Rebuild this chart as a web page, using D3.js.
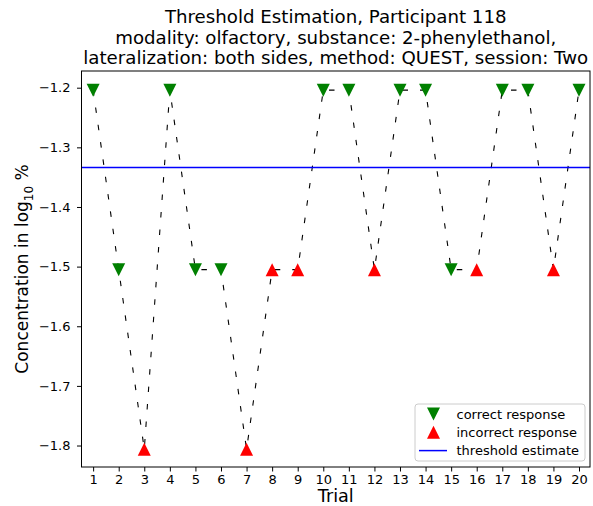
<!DOCTYPE html>
<html>
<head>
<meta charset="utf-8">
<script src="https://cdn.jsdelivr.net/npm/d3@7"></script>
<style>
  html, body { margin: 0; padding: 0; background: #fff; }
  svg { display: block; font-family: "DejaVu Sans", sans-serif; }
</style>
</head>
<body>
<svg id="chart" width="593" height="506"></svg>
<script>
// Trial sequence of one QUEST run (log10 of concentration in %)
const trials = [1, 2, 3, 4, 5, 6, 7, 8, 9, 10, 11, 12, 13, 14, 15, 16, 17, 18, 19, 20];
const concentrations = [-1.2041, -1.5051, -1.8062, -1.2041, -1.5051, -1.5051, -1.8062, -1.5051, -1.5051, -1.2041,
                        -1.2041, -1.5051, -1.2041, -1.2041, -1.5051, -1.5051, -1.2041, -1.2041, -1.5051, -1.2041];
const responses = [1, 1, 0, 1, 1, 1, 0, 0, 0, 1, 1, 0, 1, 1, 1, 0, 1, 1, 0, 1]; // 1 = correct, 0 = incorrect
const thresholdEstimate = -1.334;

const yTicks = [-1.8, -1.7, -1.6, -1.5, -1.4, -1.3, -1.2];
const xTicks = trials;

const titleLines = [
  "Threshold Estimation, Participant 118",
  "modality: olfactory, substance: 2-phenylethanol,",
  "lateralization: both sides, method: QUEST, session: Two"
];
const legendLabels = ["correct response", "incorrect response", "threshold estimate"];

// ---- layout ----
const plot = { left: 81.5, right: 590, top: 71, bottom: 467 };
const xLim = [0.545, 20.43];
const yLim = [-1.172, -1.836];

const svg = d3.select("#chart");
svg.append("rect").attr("width", 593).attr("height", 506).attr("fill", "#fff");

const x = d3.scaleLinear().domain(xLim).range([plot.left, plot.right]);
const y = d3.scaleLinear().domain(yLim).range([plot.top, plot.bottom]);

const minus = s => s.replace("-", "\u2212");

// triangle marker whose bounding box is centred on the point
function triangle(size, up) {
  const h = size / 2;
  return up
    ? `M0,${-h}L${-h},${h}L${h},${h}Z`
    : `M0,${h}L${-h},${-h}L${h},${-h}Z`;
}
const markerSize = 13;

// ---- axes ----
const xAxis = d3.axisBottom(x).tickValues(xTicks).tickSize(4.5).tickPadding(3.5).tickFormat(d3.format("d"));
const yAxis = d3.axisLeft(y).tickValues(yTicks).tickSize(4.5).tickPadding(6.5).tickFormat(d => minus(d3.format(".1f")(d)));

const gx = svg.append("g").attr("transform", `translate(0,${plot.bottom})`).call(xAxis);
const gy = svg.append("g").attr("transform", `translate(${plot.left},0)`).call(yAxis);
[gx, gy].forEach(g => {
  g.select(".domain").remove();
  g.selectAll(".tick line").attr("stroke", "#000").attr("stroke-width", 1);
  g.selectAll(".tick text").attr("fill", "#000").style("font-size", "13px")
    .style("font-family", "'DejaVu Sans', sans-serif");
});

// ---- response path ----
const pts = trials.map((t, i) => ({ t, v: concentrations[i], r: responses[i] }));
const line = d3.line().x(d => x(d.t)).y(d => y(d.v));

svg.append("path")
  .datum(pts)
  .attr("d", line)
  .attr("fill", "none")
  .attr("stroke", "#000")
  .attr("stroke-width", 1.1)
  .attr("stroke-dasharray", "5.5,12");

svg.append("g").selectAll("path")
  .data(pts)
  .join("path")
  .attr("transform", d => `translate(${x(d.t)},${y(d.v)})`)
  .attr("d", d => triangle(markerSize, d.r === 0))
  .attr("fill", d => d.r === 1 ? "#008000" : "#ff0000");

// ---- threshold estimate ----
svg.append("line")
  .attr("x1", x(xLim[0])).attr("x2", x(xLim[1]))
  .attr("y1", y(thresholdEstimate)).attr("y2", y(thresholdEstimate))
  .attr("stroke", "#0000ff").attr("stroke-width", 1.5);

// ---- frame ----
svg.append("rect")
  .attr("x", plot.left).attr("y", plot.top)
  .attr("width", plot.right - plot.left).attr("height", plot.bottom - plot.top)
  .attr("fill", "none").attr("stroke", "#000").attr("stroke-width", 1);

// ---- titles ----
const cx = (plot.left + plot.right) / 2;
svg.append("g").selectAll("text")
  .data(titleLines)
  .join("text")
  .attr("x", cx)
  .attr("y", (d, i) => 23 + i * 20.5)
  .attr("text-anchor", "middle")
  .style("font-size", "18.2px")
  .attr("fill", "#000")
  .text(d => d);

svg.append("text")
  .attr("x", cx).attr("y", 502)
  .attr("text-anchor", "middle")
  .style("font-size", "17.6px")
  .text("Trial");

const yl = svg.append("text")
  .attr("transform", `translate(28,${(plot.top + plot.bottom) / 2}) rotate(-90)`)
  .attr("text-anchor", "middle")
  .style("font-size", "17px");
yl.append("tspan").text("Concentration in log");
yl.append("tspan").attr("dy", 4.5).style("font-size", "12px").text("10");
yl.append("tspan").attr("dy", -4.5).text(" %");

// ---- legend ----
const lg = svg.append("g").attr("transform", "translate(415,404)");
lg.append("rect")
  .attr("width", 170).attr("height", 57).attr("rx", 3)
  .attr("fill", "#fff").attr("fill-opacity", 0.8)
  .attr("stroke", "#cccccc").attr("stroke-width", 1);
const rowY = i => 10 + i * 18.3;
lg.append("path").attr("transform", `translate(18.5,${rowY(0)})`)
  .attr("d", triangle(markerSize, false)).attr("fill", "#008000");
lg.append("path").attr("transform", `translate(18.5,${rowY(1)})`)
  .attr("d", triangle(markerSize, true)).attr("fill", "#ff0000");
lg.append("line").attr("x1", 4).attr("x2", 32).attr("y1", rowY(2)).attr("y2", rowY(2))
  .attr("stroke", "#0000ff").attr("stroke-width", 1.5);
lg.selectAll("text.lab")
  .data(legendLabels)
  .join("text")
  .attr("class", "lab")
  .attr("x", 41.5)
  .attr("y", (d, i) => rowY(i))
  .attr("dy", "0.36em")
  .style("font-size", "13px")
  .text(d => d);
</script>
</body>
</html>
